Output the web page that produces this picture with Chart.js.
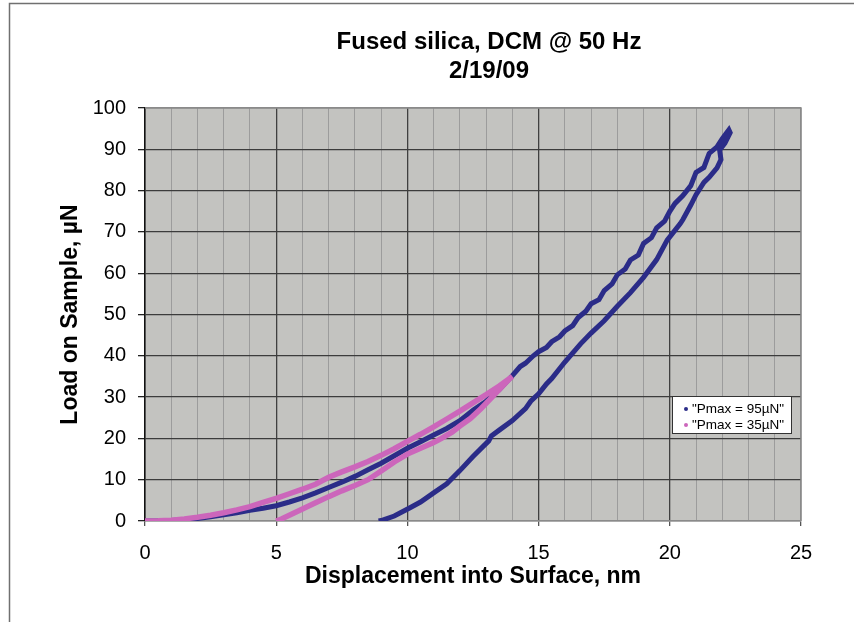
<!DOCTYPE html>
<html>
<head>
<meta charset="utf-8">
<script src="https://cdn.jsdelivr.net/npm/chart.js@4/dist/chart.umd.min.js"></script>
<style>
  html, body { margin: 0; padding: 0; background: #fff; }
  #wrap { width: 854px; height: 622px; }
</style>
</head>
<body>
<div id="wrap"><canvas id="chart"></canvas></div>
<script>
const titleLines = ['Fused silica, DCM @ 50 Hz', '2/19/09'];
const seriesLabels = ['"Pmax = 95µN"', '"Pmax = 35µN"'];
const xTitle = 'Displacement into Surface, nm';
const yTitle = 'Load on Sample, µN';

// Pmax = 95 µN : loading then unloading (nm, µN)
const blueDisp = [0, 0.5, 1, 1.5, 2, 2.5, 3, 3.5, 4, 4.5, 5, 5.5, 6, 6.5, 7, 7.5, 8, 8.5, 9, 9.5,
  10, 10.5, 11, 11.5, 12, 12.5, 13, 13.5, 14, 14.3, 14.5, 14.8, 15, 15.3, 15.5, 15.8, 16, 16.3, 16.5, 16.8, 17, 17.3, 17.5,
  17.8, 18, 18.3, 18.5, 18.8, 19, 19.3, 19.5, 19.8, 20, 20.2, 20.5, 20.8, 21, 21.3, 21.5, 21.8, 22, 22.25,
  22.3, 22.1, 21.9, 21.95, 21.8, 21.5, 21.3, 21.0, 20.8, 20.5, 20.4, 20.0, 19.9, 19.5, 19.0,
  18.5, 18.0, 17.5, 17.0, 16.6, 16.0, 15.5, 15.3, 15.0, 14.7, 14.5, 14.0, 13.5, 13.2, 13.1,
  12.5, 12.0, 11.5, 11.0, 10.5, 10.1, 9.5, 9.0, 8.9];
const blueLoad = [0, 0, 0.1, 0.3, 0.6, 1.0, 1.5, 2.0, 2.6, 3.1, 3.7, 4.6, 5.6, 6.8, 8.1, 9.4, 10.8, 12.4, 14.0, 15.8,
  17.6, 19.2, 20.8, 22.4, 24.3, 26.8, 29.0, 31.8, 35.2, 37.4, 38.2, 40.0, 41.0, 42.0, 43.4, 44.6, 46.0, 47.3, 49.2, 50.8, 52.6, 53.6, 55.8,
  57.4, 59.6, 61.0, 63.2, 64.4, 67.2, 68.6, 71.0, 72.6, 75.0, 76.9, 78.8, 81.2, 84.4, 85.6, 89.0, 90.6, 92.6, 94.7,
  94.0, 91.5, 89.8, 87.5, 85.5, 83.2, 82.0, 79.0, 76.5, 73.0, 72.0, 68.8, 68.0, 63.3, 59.0,
  55.3, 52.0, 48.5, 45.5, 42.9, 38.5, 34.5, 33.2, 30.8, 29.0, 27.2, 24.3, 22.0, 20.6, 19.4,
  15.6, 12.2, 9.0, 6.8, 4.6, 3.2, 1.2, 0.1, 0];

// Pmax = 35 µN : loading then unloading (nm, µN)
const pinkDisp = [0, 0.5, 1, 1.5, 2, 2.5, 3, 3.5, 4, 4.5, 5, 5.5, 6, 6.5, 7, 7.5, 8, 8.5, 9, 9.5,
  10, 10.5, 11, 11.5, 12, 12.5, 13, 13.5, 14,
  13.9, 13.6, 13.2, 12.8, 12.4, 12.0, 11.7, 11.3, 11.0, 10.5, 10.0, 9.5, 9.0, 8.5, 8.0, 7.5,
  7.0, 6.5, 6.0, 5.5, 5.2, 5.0];
const pinkLoad = [0, 0.05, 0.2, 0.5, 0.9, 1.4, 2.0, 2.7, 3.5, 4.5, 5.5, 6.6, 7.7, 8.9, 10.6, 11.9, 13.1, 14.4, 15.9, 17.5,
  19.3, 21.0, 22.8, 24.7, 26.6, 28.6, 30.6, 32.7, 35.0,
  34.5, 32.5, 29.8, 27.2, 24.8, 23.0, 21.5, 20.0, 19.0, 17.6, 16.2, 14.3, 12.1, 10.0, 8.6, 7.3,
  5.9, 4.4, 2.9, 1.4, 0.5, 0];

const xTicks = [0, 5, 10, 15, 20, 25];
const yTicks = [0, 10, 20, 30, 40, 50, 60, 70, 80, 90, 100];

const blueColor = '#2b2c88';
const pinkColor = '#cc66bb';

const toPoints = (xs, ys) => xs.map((x, i) => ({x: x, y: ys[i]}));

const decor = {
  id: 'decor',
  beforeDraw(chart) {
    const {ctx, chartArea: a} = chart;
    ctx.save();
    ctx.fillStyle = '#fff';
    ctx.fillRect(0, 0, chart.width, chart.height);
    // outer frame
    ctx.strokeStyle = '#707070';
    ctx.lineWidth = 1.5;
    ctx.beginPath();
    ctx.moveTo(9.5, chart.height);
    ctx.lineTo(9.5, 3.5);
    ctx.lineTo(chart.width, 3.5);
    ctx.stroke();
    // plot background
    ctx.fillStyle = '#c3c3c0';
    ctx.fillRect(a.left, a.top, a.right - a.left, a.bottom - a.top);
    ctx.restore();
  },
  afterDraw(chart) {
    const {ctx, chartArea: a} = chart;
    ctx.save();
    // title
    ctx.fillStyle = '#000';
    ctx.font = 'bold 24px "Liberation Sans", Arial, sans-serif';
    ctx.textAlign = 'center';
    ctx.textBaseline = 'alphabetic';
    ctx.fillText(titleLines[0], 489, 49);
    ctx.fillText(titleLines[1], 489, 78);
    // plot border top/right
    ctx.strokeStyle = '#8a8a8a';
    ctx.lineWidth = 1.5;
    ctx.beginPath();
    ctx.moveTo(a.left, a.top);
    ctx.lineTo(a.right, a.top);
    ctx.lineTo(a.right, a.bottom);
    ctx.stroke();
    // legend
    const lx = 672, ly = 396, lw = 119, lh = 37;
    ctx.fillStyle = '#fff';
    ctx.fillRect(lx, ly, lw, lh);
    ctx.strokeStyle = '#333';
    ctx.lineWidth = 1;
    ctx.strokeRect(lx + 0.5, ly + 0.5, lw, lh);
    ctx.font = '13.5px "Liberation Sans", Arial, sans-serif';
    ctx.textAlign = 'left';
    ctx.textBaseline = 'middle';
    chart.data.datasets.forEach((ds, i) => {
      const y = ly + 13 + i * 16;
      ctx.fillStyle = ds.borderColor;
      ctx.beginPath();
      ctx.arc(lx + 14, y, 2, 0, Math.PI * 2);
      ctx.fill();
      ctx.fillStyle = '#000';
      ctx.fillText(ds.label, lx + 20, y);
    });
    ctx.restore();
  }
};

new Chart(document.getElementById('chart'), {
  type: 'scatter',
  data: {
    datasets: [
      {
        label: seriesLabels[0],
        data: toPoints(blueDisp, blueLoad),
        showLine: true,
        borderColor: blueColor,
        backgroundColor: blueColor,
        borderWidth: 5,
        pointRadius: 0,
        order: 1
      },
      {
        label: seriesLabels[1],
        data: toPoints(pinkDisp, pinkLoad),
        showLine: true,
        borderColor: pinkColor,
        backgroundColor: pinkColor,
        borderWidth: 5.5,
        pointRadius: 0,
        order: 0
      }
    ]
  },
  options: {
    responsive: true,
    maintainAspectRatio: false,
    animation: false,
    layout: { padding: { top: 108, right: 53, left: 0, bottom: 0 } },
    plugins: {
      legend: { display: false },
      title: { display: false },
      tooltip: { enabled: false }
    },
    scales: {
      x: {
        type: 'linear',
        min: 0,
        max: 25,
        afterFit: s => { s.height = 101; },
        afterBuildTicks: s => {
          s.ticks = [];
          for (let v = 0; v <= 25; v++) s.ticks.push({value: v});
        },
        ticks: {
          autoSkip: false,
          maxRotation: 0,
          padding: 15,
          color: '#000',
          font: { size: 20, family: '"Liberation Sans", Arial, sans-serif' },
          callback: v => xTicks.includes(v) ? String(v) : ''
        },
        grid: {
          tickLength: 5,
          color: c => c.tick.value === 25 ? '#8a8a8a' : (c.tick.value % 5 === 0 ? '#404040' : '#9c9c9c'),
          lineWidth: c => c.tick.value % 5 === 0 ? 1.3 : 1,
          tickColor: c => c.tick.value % 5 === 0 ? '#555' : 'rgba(0,0,0,0)'
        },
        border: { color: '#8a8a8a', width: 1.5 },
        title: {
          display: true,
          text: xTitle,
          color: '#000',
          font: { size: 23, weight: 'bold', family: '"Liberation Sans", Arial, sans-serif' },
          padding: { top: 0, bottom: 32 }
        }
      },
      y: {
        type: 'linear',
        min: 0,
        max: 100,
        afterFit: s => { s.width = 145; },
        afterBuildTicks: s => { s.ticks = yTicks.map(v => ({value: v})); },
        ticks: {
          padding: 12,
          color: '#000',
          font: { size: 20, family: '"Liberation Sans", Arial, sans-serif' }
        },
        grid: {
          tickLength: 7,
          color: c => c.tick.value === 100 ? '#8a8a8a' : '#3c3c3c',
          lineWidth: 1.3,
          tickColor: '#222'
        },
        border: { color: '#111', width: 1.5 },
        title: {
          display: true,
          text: yTitle,
          color: '#000',
          font: { size: 23, weight: 'bold', family: '"Liberation Sans", Arial, sans-serif' },
          padding: { top: 57, bottom: 0 }
        }
      }
    }
  },
  plugins: [decor]
});
</script>
</body>
</html>
